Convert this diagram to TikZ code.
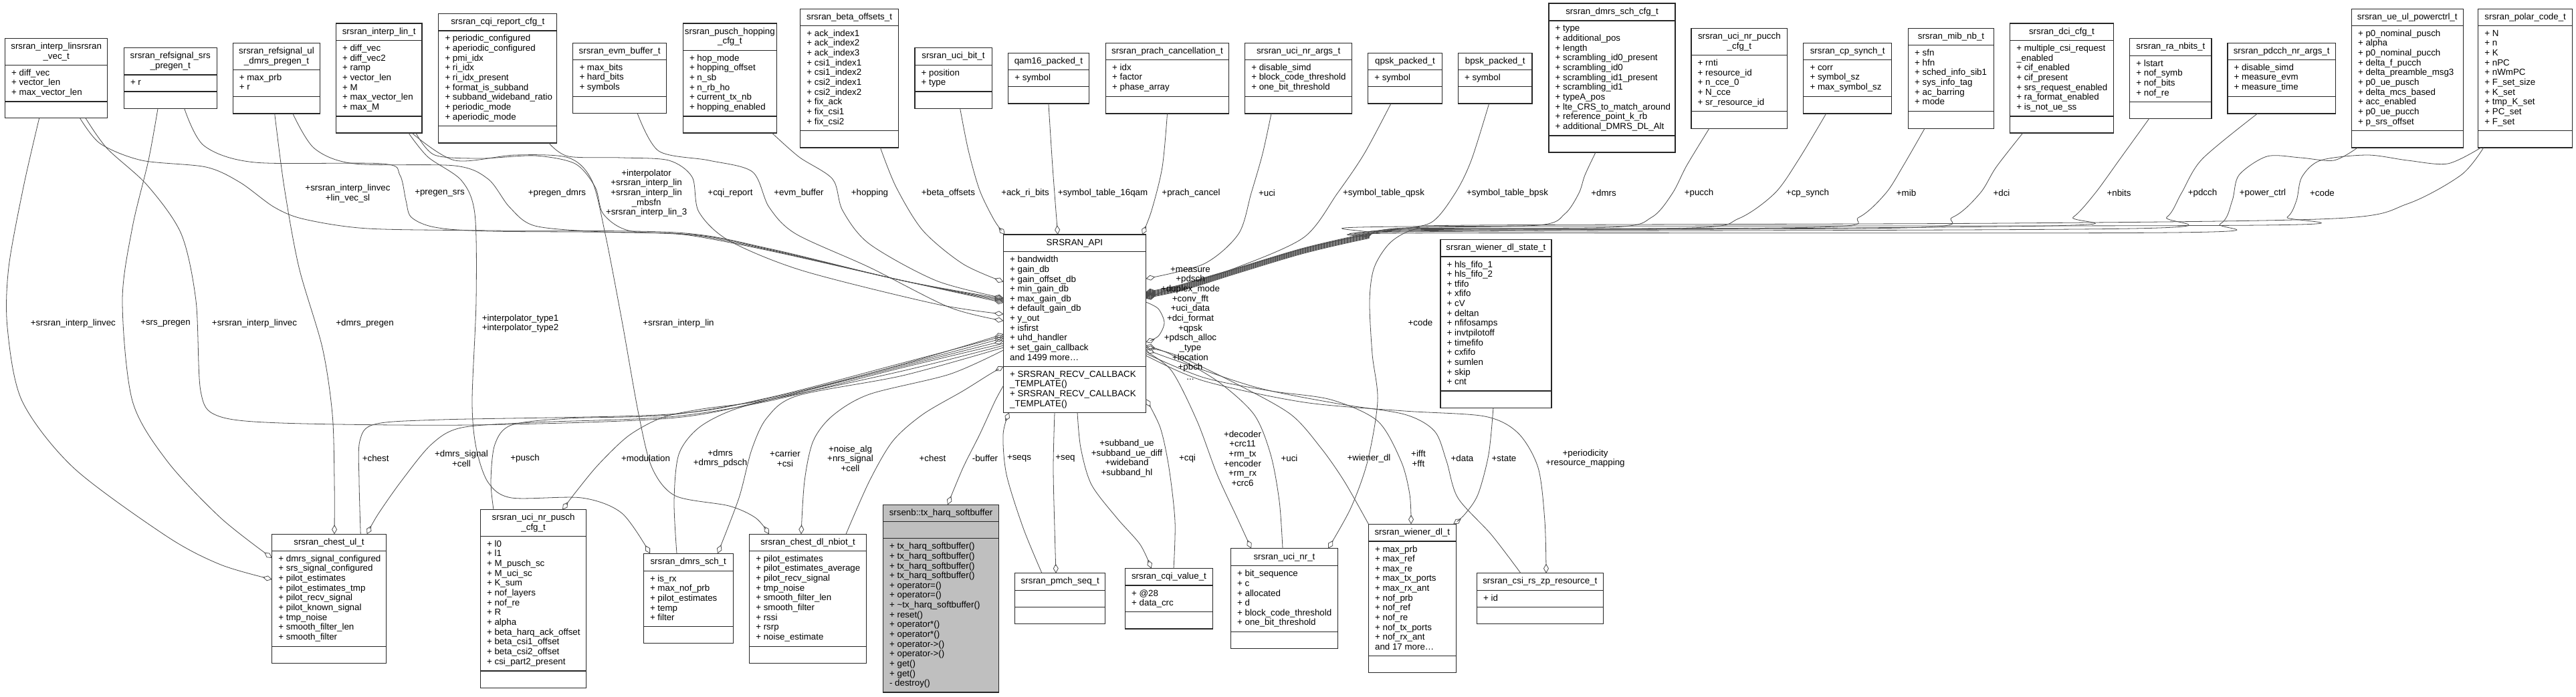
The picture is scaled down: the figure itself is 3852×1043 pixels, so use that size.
\documentclass[tikz,border=0pt]{standalone}
\usepackage{fontspec}
\setmainfont{Liberation Sans}
\usetikzlibrary{arrows.meta}

\newcommand{\dxfont}{\fontsize{13.33pt}{14.65pt}\selectfont}

% [style]{name}{x}{y}{width}{title h}{attr h}{method h}{title}
\newcommand{\umlclass}[9][classbox]{%
  \node[#1, minimum width=#5, minimum height={#6+#7+#8}] (#2) at (#3,#4) {};
  \node[boxtitle] (#2t) at ([yshift={-0.5*#6}]#2.north) {#9};
  \draw[boxline] ([yshift={-#6}]#2.north west) -- ([yshift={-#6}]#2.north east);
  \draw[boxline] ([yshift={-(#6+#7)}]#2.north west) -- ([yshift={-(#6+#7)}]#2.north east);
  \pgfmathsetmacro\clsx{#3+9.5}%
  \pgfmathsetmacro\clsa{#4+#6+16}%
  \pgfmathsetmacro\clsm{#4+#6+#7+16}%
  \def\clsname{#2}%
}
\newcommand{\members}[1]{%
  \foreach \txt [count=\k] in {#1}
    \node[member] (\clsname a\k) at (\clsx,{\clsa+(\k-1)*14.65}) {\txt};
}
\newcommand{\methods}[1]{%
  \foreach \txt [count=\k] in {#1}
    \node[member] (\clsname m\k) at (\clsx,{\clsm+(\k-1)*14.65}) {\txt};
}

\begin{document}
\catcode`\_=12
\begin{tikzpicture}[x=1pt, y=-1pt,
    classbox/.style={draw=black!85, line width=1.2pt, fill=white, inner sep=0pt, outer sep=0pt, anchor=north west},
    mainbox/.style={classbox, fill=gray!50},
    boxline/.style={draw=black!85, line width=1.2pt},
    boxtitle/.style={font=\dxfont, align=center, inner sep=0pt},
    member/.style={font=\dxfont, anchor=base west, inner sep=0pt},
    lbl/.style={font=\dxfont, align=center, inner sep=0pt},
    rel/.style={draw=black!70, line width=0.8pt},
    agg/.style={rel, -{Diamond[open, length=14pt, width=8pt]}},
    sm/.style={smooth, tension=0.5}]
\path[use as bounding box, fill=white] (0,0) rectangle (3852,1043);

\umlclass{ivec}{7.5}{57.3}{153.3}{40}{54.7}{24.7}{srsran_interp_linsrsran\\_vec_t}
\members{+ diff_vec, + vector_len, + max_vector_len}
\umlclass{srspregen}{185.3}{71.7}{138.8}{40.3}{25}{25.7}{srsran_refsignal_srs\\_pregen_t}
\members{+ r}
\umlclass{dmrspregen}{348.2}{64.3}{130.6}{40}{40}{25.7}{srsran_refsignal_ul\\_dmrs_pregen_t}
\members{+ max_prb, + r}
\umlclass{ilin}{502.4}{35}{128.5}{25.7}{113.3}{25}{srsran_interp_lin_t}
\members{+ diff_vec, + diff_vec2, + ramp, + vector_len, + M, + max_vector_len, + max_M}
\umlclass{cqicfg}{655.8}{20.7}{177}{25.3}{142.6}{25.4}{srsran_cqi_report_cfg_t}
\members{+ periodic_configured, + aperiodic_configured, + pmi_idx, + ri_idx, + ri_idx_present, + format_is_subband, + subband_wideband_ratio, + periodic_mode, + aperiodic_mode}
\umlclass{evm}{856.8}{64.3}{139.7}{25}{55}{25}{srsran_evm_buffer_t}
\members{+ max_bits, + hard_bits, + symbols}
\umlclass{hopping}{1021.3}{35}{140.1}{40.3}{98.7}{25}{srsran_pusch_hopping\\_cfg_t}
\members{+ hop_mode, + hopping_offset, + n_sb, + n_rb_ho, + current_tx_nb, + hopping_enabled}
\umlclass{beta}{1196.7}{13.3}{146.7}{25}{157.4}{25.3}{srsran_beta_offsets_t}
\members{+ ack_index1, + ack_index2, + ack_index3, + csi1_index1, + csi1_index2, + csi2_index1, + csi2_index2, + fix_ack, + fix_csi1, + fix_csi2}
\umlclass{ucibit}{1367.9}{71.3}{115.2}{26}{39.7}{25.7}{srsran_uci_bit_t}
\members{+ position, + type}
\umlclass{qam16}{1507.6}{79.3}{120.6}{25.4}{25}{25.3}{qam16_packed_t}
\members{+ symbol}
\umlclass{prach}{1653.5}{64.3}{184}{25}{55}{25.7}{srsran_prach_cancellation_t}
\members{+ idx, + factor, + phase_array}
\umlclass{ucinrargs}{1861.6}{64.3}{160}{25}{55}{25.7}{srsran_uci_nr_args_t}
\members{+ disable_simd, + block_code_threshold, + one_bit_threshold}
\umlclass{qpsk}{2045.6}{79.3}{110.7}{25.4}{25}{25.3}{qpsk_packed_t}
\members{+ symbol}
\umlclass{bpsk}{2180.3}{79.3}{110.7}{25.4}{25}{25.3}{bpsk_packed_t}
\members{+ symbol}
\umlclass{dmrscfg}{2316}{5}{189}{26}{172}{25}{srsran_dmrs_sch_cfg_t}
\members{+ type, + additional_pos, + length, + scrambling_id0_present, + scrambling_id0, + scrambling_id1_present, + scrambling_id1, + typeA_pos, + lte_CRS_to_match_around, + reference_point_k_rb, + additional_DMRS_DL_Alt}
\umlclass{pucchcfg}{2529}{42.7}{143.7}{40}{84}{25.6}{srsran_uci_nr_pucch\\_cfg_t}
\members{+ rnti, + resource_id, + n_cce_0, + N_cce, + sr_resource_id}
\umlclass{cpsynch}{2696.8}{64.3}{131.8}{25}{55}{25.7}{srsran_cp_synch_t}
\members{+ corr, + symbol_sz, + max_symbol_sz}
\umlclass{mib}{2853.5}{42.7}{128}{25}{98.6}{26}{srsran_mib_nb_t}
\members{+ sfn, + hfn, + sched_info_sib1, + sys_info_tag, + ac_barring, + mode}
\umlclass{dci}{3005.6}{35}{154.6}{25.7}{113.3}{25}{srsran_dci_cfg_t}
\members{+ multiple_csi_request, _enabled, + cif_enabled, + cif_present, + srs_request_enabled, + ra_format_enabled, + is_not_ue_ss}
\umlclass{ranbits}{3184.7}{57.3}{122.2}{26}{69.3}{24.7}{srsran_ra_nbits_t}
\members{+ lstart, + nof_symb, + nof_bits, + nof_re}
\umlclass{pdcchargs}{3331}{64.3}{161.3}{25}{55}{25.7}{srsran_pdcch_nr_args_t}
\members{+ disable_simd, + measure_evm, + measure_time}
\umlclass{powerctrl}{3516.3}{13.3}{166.9}{25}{157.4}{25.3}{srsran_ue_ul_powerctrl_t}
\members{+ p0_nominal_pusch, + alpha, + p0_nominal_pucch, + delta_f_pucch, + delta_preamble_msg3, + p0_ue_pusch, + delta_mcs_based, + acc_enabled, + p0_ue_pucch, + p_srs_offset}
\umlclass{polar}{3705.7}{13.3}{140.9}{25}{157.4}{25.3}{srsran_polar_code_t}
\members{+ N, + n, + K, + nPC, + nWmPC, + F_set_size, + K_set, + tmp_K_set, + PC_set, + F_set}

\umlclass{api}{1500.5}{351}{212.9}{25.7}{171.6}{69}{SRSRAN_API}
\members{+ bandwidth, + gain_db, + gain_offset_db, + min_gain_db, + max_gain_db, + default_gain_db, + y_out, + isfirst, + uhd_handler, + set_gain_callback, and 1499 more\ldots}
\methods{+ SRSRAN_RECV_CALLBACK, _TEMPLATE(), + SRSRAN_RECV_CALLBACK, _TEMPLATE()}
\umlclass{wstate}{2153.9}{358.3}{166}{25.7}{201}{25.7}{srsran_wiener_dl_state_t}
\members{+ hls_fifo_1, + hls_fifo_2, + tfifo, + xfifo, + cV, + deltan, + nfifosamps, + invtpilotoff, + timefifo, + cxfifo, + sumlen, + skip, + cnt}

\umlclass{chestul}{406.7}{799.3}{170.5}{25}{143}{25.4}{srsran_chest_ul_t}
\members{+ dmrs_signal_configured, + srs_signal_configured, + pilot_estimates, + pilot_estimates_tmp, + pilot_recv_signal, + pilot_known_signal, + tmp_noise, + smooth_filter_len, + smooth_filter}
\umlclass{puschcfg}{718.4}{762.7}{158.4}{39.6}{201.7}{25.3}{srsran_uci_nr_pusch\\_cfg_t}
\members{+ l0, + l1, + M_pusch_sc, + M_uci_sc, + K_sum, + nof_layers, + nof_re, + R, + alpha, + beta_harq_ack_offset, + beta_csi1_offset, + beta_csi2_offset, + csi_part2_present}
\umlclass{dmrssch}{962.3}{828.3}{133.8}{26}{83.4}{25}{srsran_dmrs_sch_t}
\members{+ is_rx, + max_nof_prb, + pilot_estimates, + temp, + filter}
\umlclass{chestdl}{1120.6}{799.3}{175.1}{25}{143}{25.4}{srsran_chest_dl_nbiot_t}
\members{+ pilot_estimates, + pilot_estimates_average, + pilot_recv_signal, + tmp_noise, + smooth_filter_len, + smooth_filter, + rssi, + rsrp, + noise_estimate}
\umlclass[mainbox]{harq}{1320.4}{755.3}{173.3}{25.4}{25}{230.3}{srsenb::tx_harq_softbuffer}
\methods{+ tx_harq_softbuffer(), + tx_harq_softbuffer(), + tx_harq_softbuffer(), + tx_harq_softbuffer(), + operator=(), + operator=(), + \textasciitilde tx_harq_softbuffer(), + reset(), + operator*(), + operator*(), + operator->(), + operator->(), + get(), + get(), - destroy()}
\umlclass{pmch}{1517.8}{857.7}{134.9}{25.6}{25}{25}{srsran_pmch_seq_t}
\umlclass{cqival}{1682.5}{850.7}{130.9}{25.3}{39.7}{25.3}{srsran_cqi_value_t}
\members{+ @28, + data_crc}
\umlclass{ucinr}{1840.4}{820.7}{160.1}{26}{98.6}{25}{srsran_uci_nr_t}
\members{+ bit_sequence, + c, + allocated, + d, + block_code_threshold, + one_bit_threshold}
\umlclass{wiener}{2046.4}{784.3}{130.8}{25.7}{171.7}{25}{srsran_wiener_dl_t}
\members{+ max_prb, + max_ref, + max_re, + max_tx_ports, + max_rx_ant, + nof_prb, + nof_ref, + nof_re, + nof_tx_ports, + nof_rx_ant, and 17 more\ldots}
\umlclass{csizp}{2208.4}{857.7}{188.8}{25.6}{25}{25}{srsran_csi_rs_zp_resource_t}
\members{+ id}

\draw[agg] plot[sm] coordinates {([xshift=10.2pt]ucibit.south) (1448,225) (1465,285) (1487,330) ([xshift=2.2pt]api.north west)};
\draw[agg] plot[sm] coordinates {(qam16.south) (1574,250) ([xshift=81.2pt]api.north west)};
\draw[agg] plot[sm] coordinates {(prach.south) (1738,250) (1722,315) ([xshift=-5.4pt]api.north east)};

\draw[agg] plot[sm] coordinates {([xshift=-27pt]beta.south east) (1340,280) (1380,345) (1440,395) ([yshift=-70.7pt]api.north west)};
\draw[agg] plot[sm] coordinates {([xshift=-7pt]hopping.south east) (1195,235) (1245,268) (1260,315) (1300,365) (1400,420) ([yshift=-95pt]api.north west)};
\draw[agg] plot[sm] coordinates {([xshift=-43.5pt]evm.south east) (985,226) (1060,240) (1125,257) (1150,310) (1190,350) (1300,400) (1420,460) ([yshift=-129pt]api.north west)};
\draw[agg] plot[sm] coordinates {([xshift=-12pt]cqicfg.south east) (850,234) (930,236) (1000,240) (1035,265) (1045,317) (1090,360) (1200,405) (1400,455) ([yshift=-119pt]api.north west)};
\draw[agg] plot[sm] coordinates {([xshift=-9pt]ilin.south east) (650,232) (720,237) (800,233) (860,245) (890,280) (902,320) (940,345) (1030,352) (1150,375) (1350,420) ([yshift=-102pt]api.north west)};
\draw[agg] plot[sm] coordinates {([xshift=24.3pt]dmrspregen.south) (470,222) (530,245) (680,248) (730,268) (762,310) (800,338) (900,347) (1030,351) (1150,374) (1350,420) ([yshift=-100pt]api.north west)};
\draw[agg] plot[sm] coordinates {([xshift=21.1pt]srspregen.south) (305,218) (381,243) (572,245) (598,262) (607,300) (615,325) (650,340) (733,346) (1020,350) (1150,373) (1350,420) ([yshift=-98pt]api.north west)};
\draw[agg] plot[sm] coordinates {([xshift=-41.3pt]ivec.south east) (150,215) (212,240) (308,250) (359,273) (410,310) (455,328) (550,342) (733,345) (1012,348) (1150,372) (1350,420) ([yshift=-96pt]api.north west)};

\draw[agg] plot[sm] coordinates {([xshift=51.2pt]ivec.south west) (35,280) (13,400) (11,490) (33,600) (110,700) (250,803) (330,845) ([yshift=-67.7pt]chestul.north west)};
\draw[agg] plot[sm] coordinates {([xshift=-18.7pt]srspregen.south) (222,240) (198,340) (183,450) (198,600) (250,690) (330,775) ([yshift=-35.7pt]chestul.north west)};
\draw[agg] plot[sm] coordinates {([xshift=-2.8pt]dmrspregen.south) (425,280) (447,400) (482,520) (497,620) (500,720) ([xshift=93.3pt]chestul.north west)};
\draw[agg] plot[sm] coordinates {([xshift=-32.8pt]ivec.south east) (160,222) (220,277) (271,350) (293,450) (300,585) (325,622) (420,633) (700,636) (1000,626) (1150,598) (1350,545) ([yshift=-149pt]api.north west)};
\draw[agg] plot[sm] coordinates {([xshift=-38pt]chestul.north east) (537,720) (538,660) (560,635) (660,628) (1000,620) (1150,595) (1350,543) ([yshift=-152pt]api.north west)};
\draw[agg] plot[sm] coordinates {([yshift=-163pt]api.north west) (1350,550) (1150,600) (1000,624) (800,632) (690,640) (645,665) (600,720) (565,770) ([xshift=-28.6pt]chestul.north east)};
\draw[agg] plot[sm] coordinates {([xshift=19.6pt]puschcfg.north west) (734,720) (740,665) (765,636) (850,626) (1000,621) (1150,596) (1350,546) ([yshift=-155pt]api.north west)};
\draw[agg] plot[sm] coordinates {([yshift=-166pt]api.north west) (1350,555) (1150,598) (1050,612) (990,625) (940,652) (895,695) (862,735) ([xshift=-35.8pt]puschcfg.north east)};
\draw[agg] plot[sm] coordinates {([xshift=49.7pt]dmrssch.north west) (1008,750) (1015,680) (1045,640) (1100,612) (1200,586) (1350,548) ([yshift=-159pt]api.north west)};
\draw[agg] plot[sm] coordinates {([yshift=-169pt]api.north west) (1350,562) (1193,592) (1147,625) (1124,673) (1105,745) ([xshift=-23pt]dmrssch.north east)};
\draw[agg] plot[sm] coordinates {([yshift=-173pt]api.north west) (1420,560) (1300,590) (1245,622) (1216,660) (1203,720) ([xshift=77.4pt]chestdl.north west)};
\draw[agg] plot[sm] coordinates {([xshift=-30.7pt]chestdl.north east) (1300,720) (1335,660) (1380,620) (1440,585) (1480,560) ([yshift=-197.3pt]api.north west)};
\draw[agg] plot[sm] coordinates {([xshift=-20pt]ilin.south east) (640,235) (690,270) (710,320) (712,450) (706,600) (712,670) (730,722) (765,745) (870,745) (930,768) ([xshift=9.7pt]dmrssch.north west)};
\draw[agg] plot[sm] coordinates {([xshift=-15pt]ilin.south east) (680,240) (770,232) (850,236) (885,270) (905,350) (930,480) (955,620) (975,700) (1010,742) (1090,757) (1130,775) ([xshift=29.4pt]chestdl.north west)};

\draw[agg] plot[sm] coordinates {([yshift=-226pt]api.north west) (1488,600) (1465,650) (1440,700) ([xshift=10pt]harq.north)};
\draw[agg] plot[sm] coordinates {([xshift=40.2pt]pmch.north west) (1530,790) (1505,710) (1500,650) ([xshift=8.5pt]api.south west)};
\draw[agg] plot[sm] coordinates {([xshift=76.5pt]api.south west) (1575,700) (1577,790) ([xshift=61.2pt]pmch.north west)};
\draw[agg] plot[sm] coordinates {([xshift=110.5pt]api.south west) (1616,670) (1632,725) (1670,775) (1705,815) ([xshift=39.1pt]cqival.north west)};
\draw[agg] plot[sm] coordinates {([xshift=72.5pt]cqival.north west) (1757,780) (1748,700) (1735,640) ([yshift=-246pt]api.north east)};

\draw[agg] plot[sm] coordinates {([yshift=-175pt]api.north east) (1752,555) (1790,630) (1820,710) (1850,775) ([xshift=30.6pt]ucinr.north west)};
\draw[agg] plot[sm] coordinates {([xshift=77.6pt]ucinr.north west) (1913,750) (1900,680) (1875,620) (1820,570) (1750,530) ([yshift=-166pt]api.north east)};
\draw[agg] plot[sm] coordinates {(wiener.north west) (2010,720) (1975,670) (1930,620) (1850,575) (1760,532) ([yshift=-169pt]api.north east)};
\draw[agg] plot[sm] coordinates {([yshift=-178pt]api.north east) (1800,565) (1900,585) (1990,598) (2060,630) (2095,690) (2108,740) ([xshift=63.6pt]wiener.north west)};
\draw[agg] plot[sm] coordinates {([xshift=65.6pt]csizp.north west) (2230,800) (2180,745) (2163,690) (2145,645) (2100,620) (2000,604) (1880,580) (1760,540) ([yshift=-172pt]api.north east)};
\draw[agg] plot[sm] coordinates {([yshift=-181pt]api.north east) (1800,570) (1950,602) (2100,615) (2220,623) (2270,648) (2300,700) (2310,780) ([xshift=103.6pt]csizp.north west)};
\draw[agg] plot[sm] coordinates {([xshift=-4pt]wstate.south) (2226,680) (2210,740) (2190,770) ([xshift=-4pt]wiener.north east)};
\draw[agg] plot[sm] coordinates {([xshift=8pt]polar.south west) (3680,262) (3600,305) (3491,327) (3000,334) (2200,337) (2120,342) (2080,362) (2055,400) (2048,450) (2052,530) (2060,600) (2045,690) (2020,760) ([xshift=-14.5pt]ucinr.north east)};
\draw[agg] plot[sm] coordinates {([yshift=-101pt]api.north east) (1732,462) (1741,483) (1732,503) ([yshift=-161pt]api.north east)};

\draw[agg] plot[sm] coordinates {([xshift=-40.6pt]ucinrargs.south) (1888,230) (1871,289) (1852,350) (1800,395) ([yshift=-66pt]api.north east)};
\draw[agg] plot[sm] coordinates {([xshift=-21pt]qpsk.south) (2040,230) (2000,289) (1950,355) (1850,400) (1770,425) ([yshift=-86pt]api.north east)};
\draw[agg] plot[sm] coordinates {([xshift=-9pt]bpsk.south) (2200,240) (2176,289) (2140,333) (2080,345) (2040,352) (1950,372) (1850,402) (1770,426) ([yshift=-87pt]api.north east)};
\draw[agg] plot[sm] coordinates {([xshift=-24.5pt]dmrscfg.south) (2370,262) (2361,289) (2340,320) (2300,337) (2100,341) (2045,350) (1950,372) (1850,402) (1770,427) ([yshift=-88pt]api.north east)};
\draw[agg] plot[sm] coordinates {([xshift=-45pt]pucchcfg.south) (2522,248) (2501,289) (2470,325) (2410,340) (2100,342) (2045,351) (1950,373) (1850,403) (1770,428) ([yshift=-89pt]api.north east)};
\draw[agg] plot[sm] coordinates {([xshift=-32pt]cpsynch.south) (2690,238) (2654,289) (2600,327) (2527,341) (2100,343) (2045,352) (1950,374) (1850,404) (1770,429) ([yshift=-90pt]api.north east)};
\draw[agg] plot[sm] coordinates {([xshift=-39.5pt]mib.south) (2846,248) (2820,289) (2780,325) (2718,340) (2100,344) (2045,353) (1950,375) (1850,405) (1770,430) ([yshift=-91pt]api.north east)};
\draw[agg] plot[sm] coordinates {([xshift=-58pt]dci.south) (2985,250) (2961,289) (2920,325) (2846,341) (2100,345) (2045,354) (1950,376) (1850,406) (1770,431) ([yshift=-92pt]api.north east)};
\draw[agg] plot[sm] coordinates {([xshift=-32pt]ranbits.south) (3170,238) (3133,289) (3100,325) (3063,338) (2100,346) (2045,355) (1950,377) (1850,407) (1770,432) ([yshift=-93pt]api.north east)};
\draw[agg] plot[sm] coordinates {([xshift=-36pt]pdcchargs.south) (3293,238) (3262,289) (3240,325) (3190,342) (2100,347) (2045,356) (1950,378) (1850,408) (1770,433) ([yshift=-94pt]api.north east)};
\draw[agg] plot[sm] coordinates {([xshift=9pt]powerctrl.south west) (3490,240) (3440,236) (3390,234) (3348,262) (3338,300) (3320,335) (3250,348) (2100,349) (2045,357) (1950,379) (1850,409) (1770,434) ([yshift=-95pt]api.north east)};
\draw[agg] plot[sm] coordinates {([xshift=4pt]polar.south west) (3660,245) (3600,240) (3540,232) (3470,240) (3442,265) (3434,300) (3420,325) (3380,337) (2100,339) (2045,349) (1950,371) (1850,401) (1770,425) ([yshift=-96pt]api.north east)};

\node[lbl] (llinvec) at (520,289.5) {+srsran_interp_linvec\\+lin_vec_sl};
\node[lbl] (lpsrs) at (657.5,289) {+pregen_srs};
\node[lbl] (lpdmrs) at (833,289) {+pregen_dmrs};
\node[lbl] (linterp) at (966.6,289) {+interpolator\\+srsran_interp_lin\\+srsran_interp_lin\\_mbsfn\\+srsran_interp_lin_3};
\node[lbl] (lcqirep) at (1092,289) {+cqi_report};
\node[lbl] (levm) at (1194.5,289) {+evm_buffer};
\node[lbl] (lhop) at (1300.5,289) {+hopping};
\node[lbl] (lbeta) at (1418,289) {+beta_offsets};
\node[lbl] (lack) at (1533,289) {+ack_ri_bits};
\node[lbl] (lqam) at (1649,289) {+symbol_table_16qam};
\node[lbl] (lprach) at (1781,289) {+prach_cancel};
\node[lbl] (luciargs) at (1894.5,289) {+uci};
\node[lbl] (lqpsk) at (2069,289) {+symbol_table_qpsk};
\node[lbl] (lbpsk) at (2254,289) {+symbol_table_bpsk};
\node[lbl] (ldmrs) at (2398,289) {+dmrs};
\node[lbl] (lpucch) at (2540.5,289) {+pucch};
\node[lbl] (lcp) at (2703,289) {+cp_synch};
\node[lbl] (lmib) at (2850.5,289) {+mib};
\node[lbl] (ldci) at (2993,289) {+dci};
\node[lbl] (lnbits) at (3168.5,289) {+nbits};
\node[lbl] (lpdcch) at (3293.5,289) {+pdcch};
\node[lbl] (lpower) at (3383.5,289) {+power_ctrl};
\node[lbl] (lcode) at (3472.5,289) {+code};
\node[lbl] (lcodeb) at (2124,483) {+code};
\node[lbl] (lself) at (1780,484) {+measure\\+pdsch\\+duplex_mode\\+conv_fft\\+uci_data\\+dci_format\\+qpsk\\+pdsch_alloc\\_type\\+location\\+pbch\\...};

\node[lbl] (lvec1) at (109.4,484) {+srsran_interp_linvec};
\node[lbl] (lsrsp) at (247.5,484) {+srs_pregen};
\node[lbl] (lvec2) at (380.5,484) {+srsran_interp_linvec};
\node[lbl] (ldmrsp) at (545.6,484) {+dmrs_pregen};
\node[lbl] (ltype) at (778,484) {+interpolator_type1\\+interpolator_type2};
\node[lbl] (llin) at (1014.5,484) {+srsran_interp_lin};

\node[lbl] (lchest1) at (561.7,686) {+chest};
\node[lbl] (lsignal) at (690,686) {+dmrs_signal\\+cell};
\node[lbl] (lpusch) at (785,686) {+pusch};
\node[lbl] (lmod) at (965.5,686) {+modulation};
\node[lbl] (ldmrssch) at (1077,686) {+dmrs\\+dmrs_pdsch};
\node[lbl] (lcarrier) at (1174,686) {+carrier\\+csi};
\node[lbl] (lnoise) at (1271.5,686) {+noise_alg\\+nrs_signal\\+cell};
\node[lbl] (lchest2) at (1394.5,686) {+chest};
\node[lbl] (lbuffer) at (1473,686) {-buffer};
\node[lbl] (lseqs) at (1524,686) {+seqs};
\node[lbl] (lseq) at (1593,686) {+seq};
\node[lbl] (lsub) at (1685,686) {+subband_ue\\+subband_ue_diff\\+wideband\\+subband_hl};
\node[lbl] (lcqi) at (1775.5,686) {+cqi};
\node[lbl] (ldec) at (1858,686) {+decoder\\+crc11\\+rm_tx\\+encoder\\+rm_rx\\+crc6};
\node[lbl] (luci) at (1928,686) {+uci};
\node[lbl] (lwiener) at (2047,686) {+wiener_dl};
\node[lbl] (lfft) at (2121,686) {+ifft\\+fft};
\node[lbl] (ldata) at (2186.5,686) {+data};
\node[lbl] (lstate) at (2249,686) {+state};
\node[lbl] (lperiod) at (2370.5,686) {+periodicity\\+resource_mapping};
\end{tikzpicture}
\end{document}
